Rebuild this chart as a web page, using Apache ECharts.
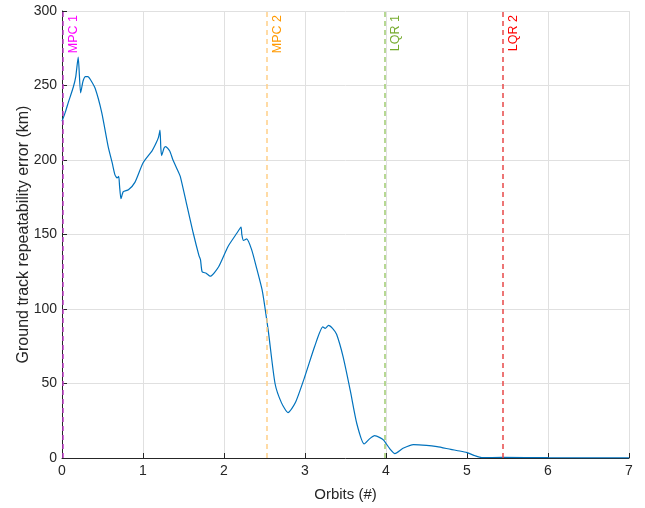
<!DOCTYPE html>
<html><head><meta charset="utf-8">
<script src="https://cdn.jsdelivr.net/npm/echarts@6/dist/echarts.min.js"></script>
<style>html,body{margin:0;padding:0;background:#fff}#c{width:645px;height:508px}</style>
</head><body><div id="c"></div>
<script>
const orbits = [0, 0.04, 0.08, 0.14, 0.17, 0.20, 0.23, 0.26, 0.29, 0.32, 0.35, 0.41, 0.49, 0.57, 0.62, 0.654, 0.68, 0.70, 0.71, 0.728, 0.757, 0.82, 0.90, 1.0, 1.11, 1.15, 1.19, 1.21, 1.22, 1.23, 1.26, 1.28, 1.33, 1.37, 1.42, 1.46, 1.54, 1.62, 1.69, 1.71, 1.73, 1.78, 1.83, 1.93, 2.05, 2.16, 2.21, 2.22, 2.24, 2.28, 2.34, 2.40, 2.47, 2.50, 2.55, 2.63, 2.71, 2.79, 2.88, 3.0, 3.12, 3.22, 3.25, 3.29, 3.34, 3.39, 3.47, 3.56, 3.64, 3.73, 3.80, 3.86, 3.93, 3.97, 4.05, 4.11, 4.21, 4.34, 4.50, 4.63, 4.80, 4.91, 5.0, 5.10, 5.18, 5.44, 6.0, 7.0];
const errorKm = [226, 232, 239, 249, 256, 269, 245, 253, 256, 256, 254, 248, 232, 209, 198, 190, 188, 189, 183, 174, 178.7, 180, 185, 198, 206, 210, 215, 220, 208, 203, 208, 209, 206, 200, 194, 189, 170, 151, 136, 133, 125, 124, 122, 128, 142, 151, 155, 150, 146, 147, 140, 128, 113, 103, 84, 50, 37, 30.5, 37, 55, 75, 88, 87, 89, 87, 83, 68, 45, 23, 9.5, 13, 15, 13.5, 12, 6, 3, 6.5, 9, 8.5, 7.6, 5.8, 4.7, 3.6, 1.5, 0.3, 0.4, 0.2, 0.1];
const eventNames = ['MPC 1', 'MPC 2', 'LQR 1', 'LQR 2'];
const eventOrbits = [0.005, 2.53, 3.99, 5.44];
const eventLineColors = ['#C040C8', '#FFCF88', '#9FCC70', '#E84848'];
const eventLabelColors = ['#FF00FF', '#FF9900', '#77AC30', '#FF0000'];

const chart = echarts.init(document.getElementById('c'), null, {renderer: 'canvas'});
const txt = '#262626';
chart.setOption({
  animation: false,
  grid: {left: 62, right: 16, top: 11, bottom: 50, containLabel: false},
  xAxis: {
    type: 'value', min: 0, max: 7, interval: 1,
    name: 'Orbits (#)', nameLocation: 'middle', nameGap: 29, nameMoveOverlap: false,
    nameTextStyle: {fontFamily: 'Liberation Sans', fontSize: 15, color: txt},
    axisLine: {show: true, onZero: false, lineStyle: {color: txt, width: 1}},
    axisTick: {show: true, inside: true, length: 5, lineStyle: {color: txt}},
    axisLabel: {fontFamily: 'Liberation Sans', fontSize: 14, color: txt, margin: 6},
    splitLine: {show: true, lineStyle: {color: '#E0E0E0', width: 1}}
  },
  yAxis: {
    type: 'value', min: 0, max: 300, interval: 50,
    name: 'Ground track repeatability error (km)', nameLocation: 'middle', nameGap: 30, nameMoveOverlap: false,
    nameTextStyle: {fontFamily: 'Liberation Sans', fontSize: 16, color: txt},
    axisLine: {show: true, lineStyle: {color: txt, width: 1}},
    axisTick: {show: true, inside: true, length: 5, lineStyle: {color: txt}},
    axisLabel: {fontFamily: 'Liberation Sans', fontSize: 14, color: txt, margin: 5},
    splitLine: {show: true, lineStyle: {color: '#E0E0E0', width: 1}}
  },
  series: [{
    type: 'line',
    data: orbits.map((x, i) => [x, errorKm[i]]),
    showSymbol: false,
    smooth: 0.2,
    lineStyle: {color: '#0072BD', width: 1.2},
    z: 3,
    markLine: {
      silent: true,
      symbol: ['none', 'none'],
      animation: false,
      data: eventOrbits.map((x, i) => ({
        xAxis: x,
        lineStyle: {color: eventLineColors[i], type: [5, 4], width: 1.5},
        label: {
          show: true, formatter: eventNames[i], position: 'insideEndBottom',
          color: eventLabelColors[i], fontFamily: 'Liberation Sans', fontSize: 12.5, distance: 4
        }
      }))
    }
  }]
});
</script></body></html>
